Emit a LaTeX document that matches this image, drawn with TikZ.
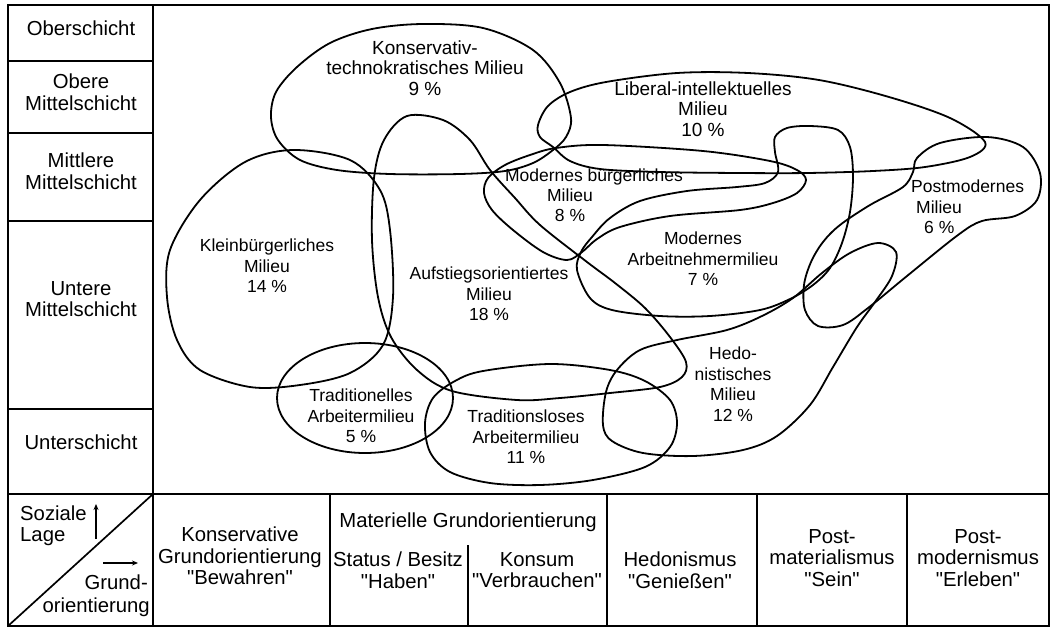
\documentclass[tikz,border=0pt]{standalone}
\usepackage{fontspec}
\setmainfont{Liberation Sans}
\usetikzlibrary{arrows.meta}
\newcommand{\qq}{\textquotedbl}
\begin{document}
\begin{tikzpicture}[x=1pt,y=-1pt,
  frame/.style={line width=1.7pt},
  blob/.style={line width=1.8pt},
  lab/.style={align=center, font=\fontsize{17.5}{20.5}\selectfont, inner sep=0pt},
  biglab/.style={lab, font=\fontsize{19}{20.5}\selectfont},
  tab/.style={align=center, font=\fontsize{20.3}{21.5}\selectfont, inner sep=0pt},
  arr/.style={line width=1.3pt, -{Stealth[length=6pt,width=5pt]}}
]
\useasboundingbox (0,0) rectangle (1055,630);
% frame and table
\draw[frame] (8,5) rectangle (1049,626);
\draw[frame] (153,5) -- (153,626);
\draw[frame] (8,61) -- (153,61);
\draw[frame] (8,133) -- (153,133);
\draw[frame] (8,221) -- (153,221);
\draw[frame] (8,409) -- (153,409);
\draw[frame] (8,494) -- (1049,494);
\draw[frame] (330,494) -- (330,626);
\draw[frame] (468,545) -- (468,626);
\draw[frame] (607,494) -- (607,626);
\draw[frame] (757,494) -- (757,626);
\draw[frame] (907,494) -- (907,626);
\draw[frame] (8,626) -- (153,494);

% blobs
\draw[blob] plot[smooth cycle, tension=0.55] coordinates {(271,117) (276,92) (297,67) (330,43) (372,29) (423,24) (483,28) (533,50) (560,83) (571,118) (566,137) (553,150) (533,163) (505,171) (460,174) (390,174) (337,170) (300,160) (278,140)};
\draw[blob] plot[smooth cycle, tension=0.55] coordinates {(538,125) (548,106) (570,92) (606,82) (677,73) (748,73) (819,80) (889,97) (950,118) (985,142) (970,157) (925,167) (873,171) (807,173) (740,173) (660,172) (600,169) (570,161) (553,147) (540,137)};
\draw[blob] plot[smooth cycle, tension=0.55] coordinates {(484,193) (488,178) (505,165) (530,155) (556,148) (603,145) (703,151) (770,161) (797,170) (806,180) (797,193) (773,203) (740,210) (670,216) (620,227) (597,239) (582,252) (567,260) (543,252) (513,230) (492,210)};
\draw[blob] plot[smooth cycle, tension=0.55] coordinates {(577,270) (581,252) (592,237) (610,218) (640,201) (687,191) (737,187) (765,183) (778,172) (775,152) (775,137) (787,128) (810,126) (838,130) (850,147) (853,177) (850,212) (842,243) (830,268) (813,285) (790,299) (760,310) (710,316) (660,316) (612,310) (590,298)};
\draw[blob] plot[smooth cycle, tension=0.55] coordinates {(407,116) (443,120) (470,140) (490,170) (515,198) (540,225) (587,262) (615,283) (645,308) (670,337) (686,362) (682,377) (660,387) (610,393) (560,398) (517,400) (452,391) (417,370) (391,337) (378,297) (372,240) (374,178) (384,140)};
\draw[blob] plot[smooth cycle, tension=0.55] coordinates {(293,150) (350,160) (380,190) (390,230) (393,297) (383,345) (350,373) (300,385) (250,387) (200,370) (177,340) (167,297) (170,250) (200,200) (245,162)};
\draw[blob] (365,398) ellipse [x radius=88, y radius=55];
\draw[blob] plot[smooth cycle, tension=0.55] coordinates {(425,423) (433,398) (455,381) (483,371) (550,364) (610,370) (645,381) (670,400) (677,423) (670,447) (645,467) (593,480) (540,485) (490,483) (450,472) (430,452)};
\draw[blob] plot[smooth cycle, tension=0.55] coordinates {(603,425) (606,392) (617,370) (640,350) (677,340) (727,330) (762,316) (793,298) (822,273) (850,253) (878,243) (896,252) (892,276) (875,302) (857,327) (833,367) (810,405) (777,436) (743,450) (693,456) (643,453) (612,441)};
\draw[blob] plot[smooth cycle, tension=0.55] coordinates {(917,158) (940,143) (987,137) (1023,147) (1040,173) (1037,200) (1015,216) (982,221) (958,235) (907,276) (868,308) (843,325) (818,326) (805,310) (804,285) (811,262) (823,242) (840,225) (870,205) (903,187) (913,172)};

% milieu labels
\node[biglab] (kt) at (425,68) {Konservativ-\\technokratisches Milieu\\9 \%};
\node[biglab] (li) at (703,109) {Liberal-intellektuelles\\Milieu\\10 \%};
\node[lab] (mb1) at (594,177) {Modernes bürgerliches};
\node[lab] (mb2) at (570,205) {Milieu\\8 \%};
\node[lab, anchor=west, align=left] (pm) at (911,207) {Postmodernes\\\hspace*{5pt}Milieu\\\hspace*{13pt}6 \%};
\node[lab] (kb) at (267,266) {Kleinbürgerliches\\Milieu\\14 \%};
\node[lab] (au) at (489,294) {Aufstiegsorientiertes\\Milieu\\18 \%};
\node[lab] (ma) at (703,259) {Modernes\\Arbeitnehmermilieu\\7 \%};
\node[lab] (ta) at (361,416) {Traditionelles\\Arbeitermilieu\\5 \%};
\node[lab] (tl) at (526,437) {Traditionsloses\\Arbeitermilieu\\11 \%};
\node[lab] (he) at (733,384) {Hedo-\\nistisches\\Milieu\\12 \%};

% left column
\node[tab] (os) at (81,28) {Oberschicht};
\node[tab] (om) at (81,92) {Obere\\Mittelschicht};
\node[tab] (mm) at (81,171) {Mittlere\\Mittelschicht};
\node[tab] (um) at (81,299) {Untere\\Mittelschicht};
\node[tab] (us) at (81,442) {Unterschicht};

% table
\node[tab] (ko) at (240,556) {Konservative\\Grundorientierung\\\qq Bewahren\qq};
\node[tab] (mat) at (468,522) {Materielle Grundorientierung};
\node[tab] (st) at (398,570) {Status / Besitz\\\qq Haben\qq};
\node[tab] (kon) at (537,570) {Konsum\\\qq Verbrauchen\qq};
\node[tab] (hed) at (680,570) {Hedonismus\\\qq Genießen\qq};
\node[tab] (pmat) at (832,558) {Post-\\materialismus\\\qq Sein\qq};
\node[tab] (pmod) at (978,558) {Post-\\modernismus\\\qq Erleben\qq};

% corner cell
\node[tab, anchor=west] (soz) at (20,513) {Soziale};
\node[tab, anchor=west] (lage) at (20,537) {Lage};
\node[tab, anchor=east] (gru) at (148,582) {Grund-};
\node[tab, anchor=east] (ori) at (150,607) {orientierung};
\coordinate (u0) at (96,539);
\coordinate (u1) at (96,504);
\coordinate (r0) at (103,563);
\coordinate (r1) at (138,563);
\draw[arr] (u0) -- (u1);
\draw[arr] (r0) -- (r1);
\end{tikzpicture}
\end{document}
